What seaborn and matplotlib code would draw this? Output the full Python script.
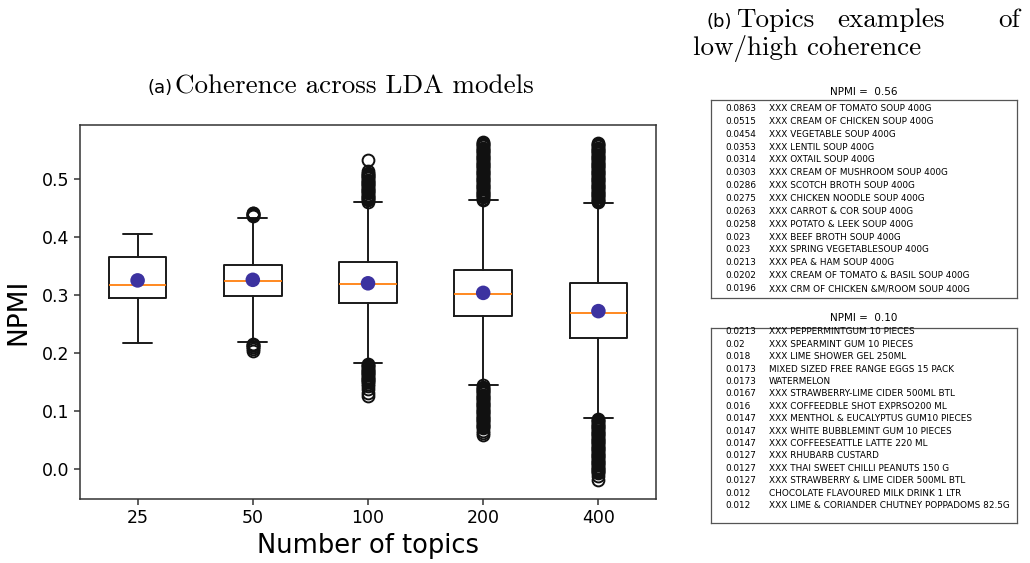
import matplotlib
matplotlib.use('Agg')
import matplotlib.pyplot as plt
import seaborn as sns

sns.set_style('ticks')
plt.rcParams['font.family'] = ['DejaVu Sans']
plt.rcParams['text.color'] = 'black'
plt.rcParams['axes.labelcolor'] = 'black'
plt.rcParams['xtick.color'] = 'black'
plt.rcParams['ytick.color'] = 'black'

# --- (a) boxplot data ---
topics = ['25', '50', '100', '200', '400']
q1 = [0.294, 0.298, 0.286, 0.263, 0.226]
med = [0.317, 0.3235, 0.318, 0.302, 0.268]
q3 = [0.365, 0.352, 0.356, 0.343, 0.320]
whislo = [0.217, 0.218, 0.182, 0.145, 0.087]
whishi = [0.405, 0.433, 0.460, 0.463, 0.459]
means = [0.325, 0.326, 0.320, 0.3035, 0.272]

fliers_25 = []
fliers_50 = [0.436, 0.437, 0.438, 0.440, 0.441, 0.442,
             0.216, 0.214, 0.213, 0.211, 0.210, 0.207, 0.204]
fliers_100 = [0.461, 0.463, 0.465, 0.467, 0.469, 0.471, 0.473, 0.475, 0.477,
              0.479, 0.481, 0.483, 0.485, 0.487, 0.489, 0.491, 0.493, 0.495,
              0.497, 0.499, 0.501, 0.503, 0.505, 0.507, 0.509, 0.511, 0.513,
              0.532,
              0.181, 0.179, 0.177, 0.175, 0.173, 0.171, 0.169, 0.167, 0.165,
              0.163, 0.161, 0.159, 0.157, 0.155, 0.153, 0.151, 0.149, 0.147,
              0.143, 0.137, 0.131, 0.125]
fliers_200 = [0.464, 0.466, 0.468, 0.470, 0.472, 0.474, 0.476, 0.478, 0.480,
              0.482, 0.484, 0.486, 0.488, 0.490, 0.492, 0.494, 0.496, 0.498,
              0.500, 0.502, 0.504, 0.506, 0.508, 0.510, 0.512, 0.514, 0.516,
              0.518, 0.520, 0.522, 0.524, 0.526, 0.528, 0.530, 0.532, 0.534,
              0.536, 0.538, 0.540, 0.542, 0.544, 0.546, 0.548, 0.550, 0.552,
              0.554, 0.556, 0.558, 0.560, 0.562, 0.564,
              0.144, 0.142, 0.140, 0.138, 0.136, 0.134, 0.132, 0.130, 0.128,
              0.126, 0.124, 0.122, 0.120, 0.118, 0.116, 0.114, 0.112, 0.110,
              0.108, 0.106, 0.104, 0.102, 0.100, 0.098, 0.096, 0.094, 0.092,
              0.090, 0.088, 0.086, 0.084, 0.082, 0.080, 0.078, 0.076, 0.074,
              0.072, 0.070, 0.065, 0.061, 0.058]
fliers_400 = [0.460, 0.462, 0.464, 0.466, 0.468, 0.470, 0.472, 0.474, 0.476,
              0.478, 0.480, 0.482, 0.484, 0.486, 0.488, 0.490, 0.492, 0.494,
              0.496, 0.498, 0.500, 0.502, 0.504, 0.506, 0.508, 0.510, 0.512,
              0.514, 0.516, 0.518, 0.520, 0.522, 0.524, 0.526, 0.528, 0.530,
              0.532, 0.534, 0.536, 0.538, 0.540, 0.542, 0.544, 0.546, 0.548,
              0.550, 0.552, 0.554, 0.556, 0.558, 0.560, 0.562,
              0.086, 0.084, 0.082, 0.080, 0.078, 0.076, 0.074, 0.072, 0.070,
              0.068, 0.066, 0.064, 0.062, 0.060, 0.058, 0.056, 0.054, 0.052,
              0.050, 0.048, 0.046, 0.044, 0.042, 0.040, 0.038, 0.036, 0.034,
              0.032, 0.030, 0.028, 0.026, 0.024, 0.022, 0.020, 0.018, 0.016,
              0.014, 0.012, 0.010, 0.008, 0.006, 0.004, 0.002, 0.000, -0.002,
              -0.004, -0.006, -0.008, -0.013, -0.019]
fliers = [fliers_25, fliers_50, fliers_100, fliers_200, fliers_400]

# --- (b) topic tables ---
high_npmi = '0.56'
high_w = ['0.0863', '0.0515', '0.0454', '0.0353', '0.0314', '0.0303', '0.0286',
          '0.0275', '0.0263', '0.0258', '0.023', '0.023', '0.0213', '0.0202', '0.0196']
high_items = ['XXX CREAM OF TOMATO SOUP 400G', 'XXX CREAM OF CHICKEN SOUP 400G',
              'XXX VEGETABLE SOUP 400G', 'XXX LENTIL SOUP 400G', 'XXX OXTAIL SOUP 400G',
              'XXX CREAM OF MUSHROOM SOUP 400G', 'XXX SCOTCH BROTH SOUP 400G',
              'XXX CHICKEN NOODLE SOUP 400G', 'XXX CARROT & COR SOUP 400G',
              'XXX POTATO & LEEK SOUP 400G', 'XXX BEEF BROTH SOUP 400G',
              'XXX SPRING VEGETABLESOUP 400G', 'XXX PEA & HAM SOUP 400G',
              'XXX CREAM OF TOMATO & BASIL SOUP 400G', 'XXX CRM OF CHICKEN &M/ROOM SOUP 400G']
low_npmi = '0.10'
low_w = ['0.0213', '0.02', '0.018', '0.0173', '0.0173', '0.0167', '0.016', '0.0147',
         '0.0147', '0.0147', '0.0127', '0.0127', '0.0127', '0.012', '0.012']
low_items = ['XXX PEPPERMINTGUM 10 PIECES', 'XXX SPEARMINT GUM 10 PIECES',
             'XXX LIME SHOWER GEL 250ML', 'MIXED SIZED FREE RANGE EGGS 15 PACK',
             'WATERMELON', 'XXX STRAWBERRY-LIME CIDER 500ML BTL',
             'XXX COFFEEDBLE SHOT EXPRSO200 ML', 'XXX MENTHOL & EUCALYPTUS GUM10 PIECES',
             'XXX WHITE BUBBLEMINT GUM 10 PIECES', 'XXX COFFEESEATTLE LATTE 220 ML',
             'XXX RHUBARB CUSTARD', 'XXX THAI SWEET CHILLI PEANUTS 150 G',
             'XXX STRAWBERRY & LIME CIDER 500ML BTL', 'CHOCOLATE FLAVOURED MILK DRINK 1 LTR',
             'XXX LIME & CORIANDER CHUTNEY POPPADOMS 82.5G']

W, H = 1030, 563
fig = plt.figure(figsize=(W / 100, H / 100), dpi=100)

def px(x0, y0, x1, y1):
    return [x0 / W, 1 - y1 / H, (x1 - x0) / W, (y1 - y0) / H]

#%% (a) boxplots
ax = fig.add_axes(px(80, 125, 656, 499))
pos = list(range(1, len(topics) + 1))
stats = []
for i in range(len(topics)):
    stats.append(dict(q1=q1[i], med=med[i], q3=q3[i], whislo=whislo[i],
                      whishi=whishi[i], fliers=fliers[i], label=topics[i]))

ax.bxp(stats, positions=pos, widths=0.5,
       boxprops=dict(color='#1a1a1a', linewidth=1.4),
       whiskerprops=dict(color='#1a1a1a', linewidth=1.4),
       capprops=dict(color='#1a1a1a', linewidth=1.4),
       medianprops=dict(color='#ff7f0e', linewidth=1.3),
       flierprops=dict(marker='o', markerfacecolor='none', markeredgecolor='#111111',
                       markersize=8.5, markeredgewidth=1.4))
sns.scatterplot(x=pos, y=means, ax=ax, color='#3c32a0', s=110, edgecolor='none', zorder=5)

ax.set_xlim(0.5, 5.5)
ax.set_ylim(-0.052, 0.593)
ax.set_xticks(pos)
ax.set_xticklabels(topics)
ax.set_yticks([0.0, 0.1, 0.2, 0.3, 0.4, 0.5])
ax.tick_params(labelsize=12.5, length=4, width=1.1, color='#333333')
for s in ax.spines.values():
    s.set_color('#333333')
    s.set_linewidth(1.1)
ax.set_xlabel('Number of topics', fontsize=18.5, labelpad=4)
ax.set_ylabel('NPMI', fontsize=19, labelpad=8)

#%% titles
fig.text(148 / W, 1 - 93 / H, '(a)', fontsize=13, family='DejaVu Sans', va='baseline')
fig.text(175 / W, 1 - 93 / H, 'Coherence across LDA models', fontsize=19.5,
         family='cmr10', va='baseline')

fig.text(706 / W, 1 - 27 / H, '(b)', fontsize=13, family='DejaVu Sans', va='baseline')
fig.text(736 / W, 1 - 27 / H, 'Topics', fontsize=19.5, family='cmr10', va='baseline')
fig.text(891 / W, 1 - 27 / H, 'examples', fontsize=19.5, family='cmr10',
         va='baseline', ha='center')
fig.text(1020 / W, 1 - 27 / H, 'of', fontsize=19.5, family='cmr10',
         va='baseline', ha='right')
fig.text(693 / W, 1 - 55 / H, 'low/high coherence', fontsize=19.5, family='cmr10',
         va='baseline')

#%% (b) tables
def topic_table(box, title, title_y, first_y, step, weights, items):
    x0, y0, x1, y1 = box
    tab = fig.add_axes(px(x0, y0, x1, y1))
    tab.set_xlim(x0, x1)
    tab.set_ylim(y1, y0)
    tab.set_xticks([])
    tab.set_yticks([])
    for s in tab.spines.values():
        s.set_color('#555555')
        s.set_linewidth(0.9)
    fig.text((x0 + x1) / 2 / W, 1 - title_y / H, 'NPMI =  ' + title,
             fontsize=7.5, ha='center', va='center')
    for i in range(len(weights)):
        y = first_y + i * step
        tab.text(x0 + 14, y, weights[i], fontsize=6.4, va='center', clip_on=False)
        tab.text(x0 + 58, y, items[i], fontsize=6.4, va='center', clip_on=False)

topic_table((711, 100, 1017, 298), high_npmi, 92, 108.5, 12.86, high_w, high_items)
topic_table((711, 328, 1017, 523), low_npmi, 318, 332, 12.4, low_w, low_items)

fig.savefig('out.png', dpi=100)
